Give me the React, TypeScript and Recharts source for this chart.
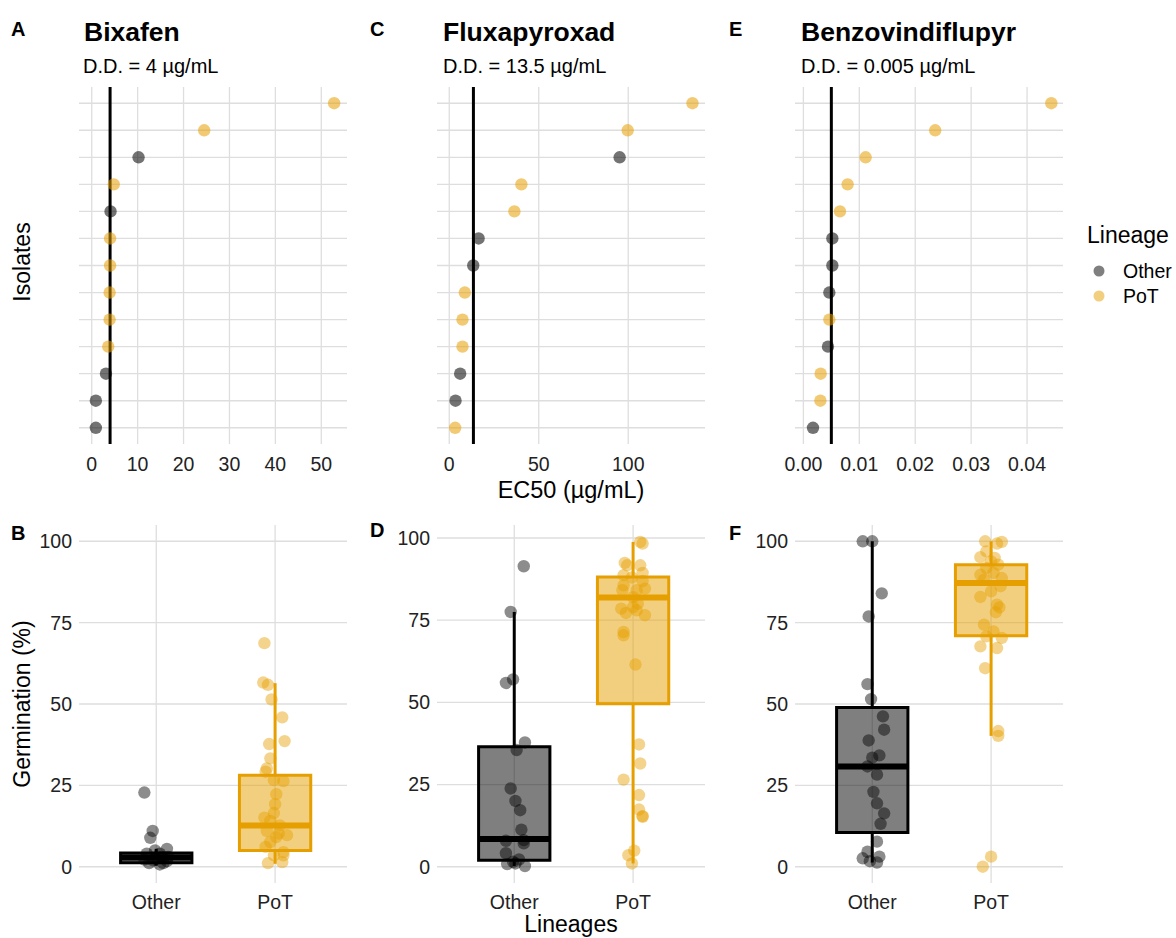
import React from 'react';
import {
  ScatterChart,
  Scatter,
  XAxis,
  YAxis,
  CartesianGrid,
  ReferenceLine,
  ReferenceArea,
} from 'recharts';

const OTHER = '#000000';
const POT = '#E69F00';
const FONT = '"Liberation Sans", Arial, Helvetica, sans-serif';
const GRID = '#dedede';

// ---- top row: EC50 per isolate, listed from the bottom row up ----
const bixafenEC50 = [0.9, 0.9, 3.1, 3.6, 3.9, 3.9, 4.0, 4.0, 4.1, 4.8, 10.2, 24.5, 52.8];
const bixafenLineage = ['Other', 'Other', 'Other', 'PoT', 'PoT', 'PoT', 'PoT', 'PoT', 'Other', 'PoT', 'Other', 'PoT', 'PoT'];

const fluxEC50 = [3.3, 3.5, 6.1, 7.4, 7.4, 8.7, 13.4, 16.4, 36.4, 40.3, 95.2, 99.7, 135.9];
const fluxLineage = ['PoT', 'Other', 'Other', 'PoT', 'PoT', 'PoT', 'Other', 'Other', 'PoT', 'PoT', 'Other', 'PoT', 'PoT'];

const benzoEC50 = [0.00172, 0.00304, 0.00309, 0.0044, 0.00464, 0.00464, 0.00518, 0.00518, 0.00654, 0.00791, 0.01113, 0.02357, 0.04434];
const benzoLineage = ['Other', 'PoT', 'PoT', 'Other', 'PoT', 'Other', 'Other', 'Other', 'PoT', 'PoT', 'PoT', 'PoT', 'PoT'];

const isolateRows = [1, 2, 3, 4, 5, 6, 7, 8, 9, 10, 11, 12, 13];

const bixafenTicks = [0, 10, 20, 30, 40, 50];
const fluxTicks = [0, 50, 100];
const benzoTicks = [0, 0.01, 0.02, 0.03, 0.04];

// ---- bottom row: germination (%) with the jitter offset of each point ----
const bixafenOtherGerm = [22.8, 11.0, 8.9, 5.5, 4.0, 4.0, 1.1, 1.1, 2.5, 1.7, 2.0, 0.7, 2.2, 3.0, 5.0, 3.0];
const bixafenOtherJit = [-0.1, -0.03, -0.05, 0.09, -0.08, 0.03, -0.06, 0.06, 0.0, 0.09, -0.03, 0.03, -0.1, 0.1, -0.01, 0.05];
const bixafenPotGerm = [68.7, 56.6, 55.9, 51.4, 45.9, 38.6, 37.7, 33.3, 30.2, 29.2, 26.6, 26.3, 22.3, 19.2, 16.5, 15.1, 14.1, 12.7, 11.0, 9.7, 9.1, 7.6, 6.1, 4.5, 3.5, 1.1, 1.4, 3.5, 10.2];
const bixafenPotJit = [-0.09, -0.1, -0.06, -0.03, 0.06, 0.08, -0.05, -0.04, -0.07, -0.08, -0.01, 0.07, 0.01, 0.0, -0.01, -0.09, -0.04, 0.04, -0.07, 0.1, 0.01, -0.04, -0.08, 0.07, -0.01, -0.06, 0.06, 0.07, 0.03];

const fluxOtherGerm = [91.4, 77.5, 55.9, 57.0, 37.8, 35.5, 23.8, 20.0, 17.2, 11.3, 8.1, 7.9, 4.1, 0.8, 1.5, 2.2, 0.2, 7.1, 1.0];
const fluxOtherJit = [0.08, -0.03, -0.07, -0.01, 0.09, 0.02, -0.03, 0.01, 0.05, 0.06, 0.08, -0.07, -0.07, -0.06, -0.01, 0.04, 0.09, 0.08, 0.01];
const fluxPotGerm = [98.8, 98.3, 92.4, 91.7, 91.7, 88.7, 89.4, 88.0, 85.6, 86.9, 84.1, 84.6, 84.1, 80.0, 79.0, 78.5, 77.2, 78.0, 76.5, 71.4, 70.4, 61.5, 37.2, 31.4, 26.5, 21.8, 17.4, 15.4, 4.9, 3.5, 1.0, 15.2, 82.0];
const fluxPotJit = [0.06, 0.08, -0.07, -0.05, 0.06, -0.08, 0.08, -0.01, -0.08, 0.08, 0.03, 0.1, -0.09, 0.04, 0.0, -0.1, -0.06, 0.03, 0.1, -0.08, -0.08, 0.02, 0.05, 0.06, -0.08, 0.05, 0.05, 0.08, 0.01, -0.04, -0.01, 0.08, 0.0];

const benzoOtherGerm = [100, 100, 84.0, 76.9, 56.1, 51.5, 46.2, 42.1, 38.8, 34.2, 33.5, 30.8, 28.3, 23.0, 19.5, 16.4, 13.2, 7.7, 4.6, 2.6, 3.1, 1.3, 1.7];
const benzoOtherJit = [-0.08, 0.0, 0.08, -0.03, -0.04, -0.01, 0.09, 0.1, -0.03, 0.06, 0.0, -0.04, 0.04, 0.01, 0.04, 0.1, 0.07, 0.04, -0.04, -0.08, 0.06, 0.04, -0.02];
const benzoPotGerm = [100, 99.8, 99.3, 96.9, 95.1, 94.9, 93.8, 92.8, 91.8, 89.7, 90.3, 88.7, 88.2, 86.2, 84.6, 82.9, 80.5, 79.7, 78.2, 74.4, 72.3, 70.8, 70.3, 67.7, 67.2, 61.0, 41.7, 40.2, 3.1, 0.0];
const benzoPotJit = [-0.05, 0.09, 0.05, -0.04, -0.09, 0.03, 0.0, 0.06, -0.04, -0.09, 0.02, 0.09, -0.06, 0.08, 0.0, -0.09, 0.05, 0.07, 0.04, -0.06, 0.02, -0.04, 0.09, -0.09, 0.05, -0.05, 0.06, 0.06, 0.0, -0.07];

// box stats: [lower whisker, q1, median, q3, upper whisker]
const bixafenOtherBox = [0.3, 1.2, 2.8, 4.2, 5.5];
const bixafenPotBox = [0.9, 5.0, 12.7, 28.1, 56.4];
const fluxOtherBox = [0.2, 2.0, 8.4, 36.5, 77.5];
const fluxPotBox = [1.0, 49.6, 81.9, 88.1, 98.8];
const benzoOtherBox = [1.3, 10.5, 30.8, 48.9, 100];
const benzoPotBox = [40.2, 71.0, 87.2, 92.8, 100];

const lineages = ['Other', 'PoT'];
const lineagePos = [1, 2];
const germTicks = [0, 25, 50, 75, 100];

const YW = 45;
const PW = 268;
const TOP_H = 357;
const BOT_H = 358;
const tickStyle = { fill: '#222', fontSize: 19.5, fontFamily: FONT };

const dot = (color: string, op: number) => (props: any) => (
  <circle cx={props.cx} cy={props.cy} r={6.2} fill={color} fillOpacity={op} />
);

function DosePanel({ left, ec50, lineage, domain, ticks, dd, fmt }: any) {
  const rows = ec50.map((v: number, i: number) => ({ x: v, y: isolateRows[i], g: lineage[i] }));
  return (
    <div style={{ position: 'absolute', left: left - YW, top: 82 }}>
      <ScatterChart width={YW + PW + 5} height={5 + TOP_H + 40} margin={{ top: 5, right: 5, left: 0, bottom: 0 }}>
        <XAxis type="number" dataKey="x" domain={domain} ticks={ticks} allowDataOverflow
          axisLine={false} tickLine={false} tickSize={0} tickMargin={13} height={40}
          tick={tickStyle} tickFormatter={fmt} interval={0} />
        <YAxis type="number" dataKey="y" domain={[0.4, 13.6]} ticks={isolateRows} allowDataOverflow
          width={YW} tick={false} axisLine={false} tickLine={false} />
        {isolateRows.map((r) => (
          <ReferenceLine key={'h' + r} y={r} stroke={GRID} strokeWidth={1.3} />
        ))}
        {ticks.map((t: number) => (
          <ReferenceLine key={'v' + t} x={t} stroke={GRID} strokeWidth={1.3} />
        ))}
        <ReferenceLine x={dd} stroke="#000" strokeWidth={3} />
        <Scatter data={rows.filter((r: any) => r.g === 'Other')} shape={dot(OTHER, 0.55)} isAnimationActive={false} />
        <Scatter data={rows.filter((r: any) => r.g === 'PoT')} shape={dot(POT, 0.55)} isAnimationActive={false} />
      </ScatterChart>
    </div>
  );
}

function GermPanel({ left, otherGerm, otherJit, potGerm, potJit, otherBox, potBox, yDomain }: any) {
  const other = otherGerm.map((v: number, i: number) => ({ x: 1 + otherJit[i], y: v }));
  const pot = potGerm.map((v: number, i: number) => ({ x: 2 + potJit[i], y: v }));
  const [oLo, oQ1, oMed, oQ3, oHi] = otherBox;
  const [pLo, pQ1, pMed, pQ3, pHi] = potBox;
  return (
    <div style={{ position: 'absolute', left: left - YW, top: 520 }}>
      <ScatterChart width={YW + PW + 5} height={5 + BOT_H + 40} margin={{ top: 5, right: 5, left: 0, bottom: 0 }}>
        <CartesianGrid stroke={GRID} strokeWidth={1.3} syncWithTicks />
        <XAxis type="number" dataKey="x" domain={[0.35, 2.605]} ticks={lineagePos} allowDataOverflow
          axisLine={false} tickLine={false} tickSize={0} tickMargin={12} height={40}
          tick={tickStyle} tickFormatter={(v: number) => lineages[Math.round(v) - 1]} interval={0} />
        <YAxis type="number" dataKey="y" domain={yDomain} ticks={germTicks} allowDataOverflow
          width={YW} axisLine={false} tickLine={false} tickSize={0} tickMargin={7} tick={tickStyle} interval={0} />
        <ReferenceLine segment={[{ x: 1, y: oLo }, { x: 1, y: oQ1 }]} stroke={OTHER} strokeWidth={3} />
        <ReferenceLine segment={[{ x: 1, y: oQ3 }, { x: 1, y: oHi }]} stroke={OTHER} strokeWidth={3} />
        <ReferenceLine segment={[{ x: 2, y: pLo }, { x: 2, y: pQ1 }]} stroke={POT} strokeWidth={3} />
        <ReferenceLine segment={[{ x: 2, y: pQ3 }, { x: 2, y: pHi }]} stroke={POT} strokeWidth={3} />
        <ReferenceArea x1={0.7} x2={1.3} y1={oQ1} y2={oQ3} fill={OTHER} fillOpacity={0.5} stroke={OTHER} strokeWidth={3} />
        <ReferenceArea x1={1.7} x2={2.3} y1={pQ1} y2={pQ3} fill={POT} fillOpacity={0.5} stroke={POT} strokeWidth={3} />
        <ReferenceLine segment={[{ x: 0.7, y: oMed }, { x: 1.3, y: oMed }]} stroke={OTHER} strokeWidth={6} />
        <ReferenceLine segment={[{ x: 1.7, y: pMed }, { x: 2.3, y: pMed }]} stroke={POT} strokeWidth={6} />
        <Scatter data={other} shape={dot(OTHER, 0.45)} isAnimationActive={false} />
        <Scatter data={pot} shape={dot(POT, 0.45)} isAnimationActive={false} />
      </ScatterChart>
    </div>
  );
}

const txt = { fontFamily: FONT, fill: '#000' };

export default function App() {
  return (
    <div style={{ position: 'absolute', left: 0, top: 0, width: 1176, height: 938, background: '#fff', fontFamily: FONT }}>
      <DosePanel left={79} ec50={bixafenEC50} lineage={bixafenLineage} domain={[-2.77, 55.6]} ticks={bixafenTicks} dd={4}
        fmt={(v: number) => String(v)} />
      <DosePanel left={437} ec50={fluxEC50} lineage={fluxLineage} domain={[-6.85, 142.9]} ticks={fluxTicks} dd={13.5}
        fmt={(v: number) => String(v)} />
      <DosePanel left={795} ec50={benzoEC50} lineage={benzoLineage} domain={[-0.0015, 0.04643]} ticks={benzoTicks} dd={0.005}
        fmt={(v: number) => v.toFixed(2)} />

      <GermPanel left={79} otherGerm={bixafenOtherGerm} otherJit={bixafenOtherJit} potGerm={bixafenPotGerm} potJit={bixafenPotJit}
        otherBox={bixafenOtherBox} potBox={bixafenPotBox} yDomain={[-5, 105]} />
      <GermPanel left={437} otherGerm={fluxOtherGerm} otherJit={fluxOtherJit} potGerm={fluxPotGerm} potJit={fluxPotJit}
        otherBox={fluxOtherBox} potBox={fluxPotBox} yDomain={[-4.95, 103.95]} />
      <GermPanel left={795} otherGerm={benzoOtherGerm} otherJit={benzoOtherJit} potGerm={benzoPotGerm} potJit={benzoPotJit}
        otherBox={benzoOtherBox} potBox={benzoPotBox} yDomain={[-5, 105]} />

      <svg width={1176} height={938} style={{ position: 'absolute', left: 0, top: 0, pointerEvents: 'none' }}>
        {/* panel tags */}
        <text x={11} y={36} fontSize={20} fontWeight="bold" style={txt}>A</text>
        <text x={370} y={36} fontSize={20} fontWeight="bold" style={txt}>C</text>
        <text x={729} y={36} fontSize={20} fontWeight="bold" style={txt}>E</text>
        <text x={11} y={540} fontSize={20} fontWeight="bold" style={txt}>B</text>
        <text x={370} y={537} fontSize={20} fontWeight="bold" style={txt}>D</text>
        <text x={729} y={540} fontSize={20} fontWeight="bold" style={txt}>F</text>

        {/* titles */}
        <text x={84} y={41} fontSize={26.5} fontWeight="bold" style={txt}>Bixafen</text>
        <text x={443} y={41} fontSize={26.5} fontWeight="bold" style={txt}>Fluxapyroxad</text>
        <text x={801} y={41} fontSize={26.5} fontWeight="bold" style={txt}>Benzovindiflupyr</text>
        <text x={83} y={73} fontSize={20} style={txt}>D.D. = 4 µg/mL</text>
        <text x={443} y={73} fontSize={20} style={txt}>D.D. = 13.5 µg/mL</text>
        <text x={801} y={73} fontSize={20} style={txt}>D.D. = 0.005 µg/mL</text>

        {/* axis titles */}
        <text transform="translate(22,262) rotate(-90)" textAnchor="middle" dy="0.35em" fontSize={23} style={txt}>Isolates</text>
        <text transform="translate(22,704) rotate(-90)" textAnchor="middle" dy="0.35em" fontSize={23} style={txt}>Germination (%)</text>
        <text x={571} y={490} textAnchor="middle" dy="0.35em" fontSize={23.5} style={txt}>EC50 (µg/mL)</text>
        <text x={571} y={924} textAnchor="middle" dy="0.35em" fontSize={23} style={txt}>Lineages</text>

        {/* legend */}
        <text x={1087} y={243} fontSize={23} style={txt}>Lineage</text>
        <circle cx={1099} cy={271} r={5.5} fill={OTHER} fillOpacity={0.5} />
        <circle cx={1099} cy={296} r={5.5} fill={POT} fillOpacity={0.5} />
        <text x={1123} y={271} dy="0.35em" fontSize={19.5} style={txt}>Other</text>
        <text x={1123} y={296} dy="0.35em" fontSize={19.5} style={txt}>PoT</text>
      </svg>
    </div>
  );
}
